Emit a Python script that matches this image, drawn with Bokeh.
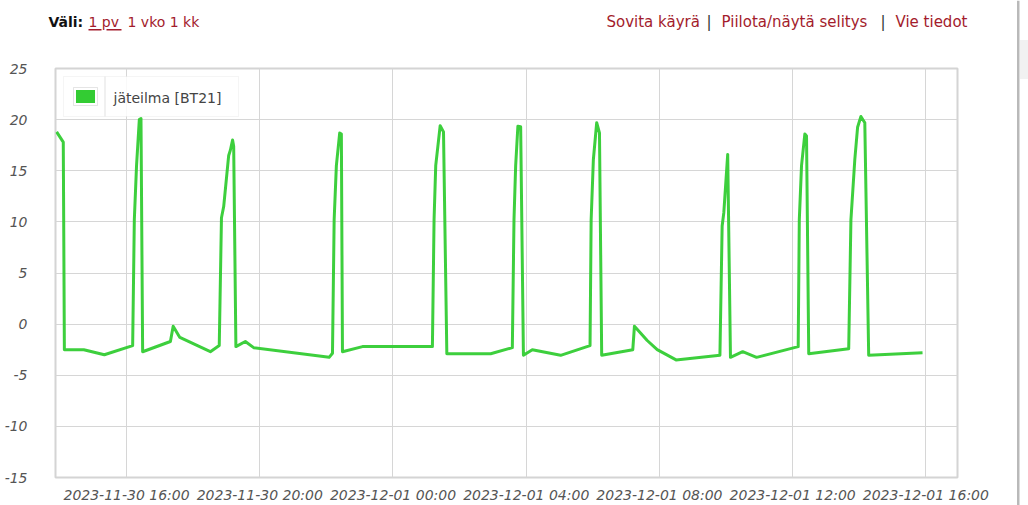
import pandas as pd
from bokeh.plotting import figure
from bokeh.layouts import column, row
from bokeh.models import (Range1d, FixedTicker, DatetimeTickFormatter, Label, BoxAnnotation,
                          ColumnDataSource, NumeralTickFormatter, Spacer)
from bokeh.embed import file_html
from bokeh.resources import INLINE

# ---------------- data ----------------
series_name = "jäteilma [BT21]"

times = [
    "2023-11-30 13:54", "2023-11-30 14:06", "2023-11-30 14:08", "2023-11-30 14:43",
    "2023-11-30 15:20", "2023-11-30 16:11", "2023-11-30 16:14", "2023-11-30 16:18",
    "2023-11-30 16:23", "2023-11-30 16:26", "2023-11-30 16:29", "2023-11-30 17:19",
    "2023-11-30 17:24", "2023-11-30 17:36", "2023-11-30 18:31", "2023-11-30 18:47",
    "2023-11-30 18:51", "2023-11-30 18:55", "2023-11-30 19:04", "2023-11-30 19:07",
    "2023-11-30 19:11", "2023-11-30 19:13", "2023-11-30 19:17", "2023-11-30 19:34",
    "2023-11-30 19:49", "2023-11-30 22:05", "2023-11-30 22:11", "2023-11-30 22:14",
    "2023-11-30 22:18", "2023-11-30 22:24", "2023-11-30 22:27", "2023-11-30 22:29",
    "2023-11-30 23:05", "2023-12-01 01:11", "2023-12-01 01:14", "2023-12-01 01:17",
    "2023-12-01 01:25", "2023-12-01 01:31", "2023-12-01 01:37", "2023-12-01 02:56",
    "2023-12-01 03:35", "2023-12-01 03:38", "2023-12-01 03:41", "2023-12-01 03:45",
    "2023-12-01 03:50", "2023-12-01 03:55", "2023-12-01 04:11", "2023-12-01 05:02",
    "2023-12-01 05:55", "2023-12-01 05:57", "2023-12-01 06:01", "2023-12-01 06:07",
    "2023-12-01 06:12", "2023-12-01 06:16", "2023-12-01 07:12", "2023-12-01 07:15",
    "2023-12-01 07:38", "2023-12-01 07:56", "2023-12-01 08:30", "2023-12-01 09:49",
    "2023-12-01 09:53", "2023-12-01 09:56", "2023-12-01 10:03", "2023-12-01 10:08",
    "2023-12-01 10:30", "2023-12-01 10:55", "2023-12-01 12:10", "2023-12-01 12:12",
    "2023-12-01 12:16", "2023-12-01 12:22", "2023-12-01 12:25", "2023-12-01 12:29",
    "2023-12-01 13:41", "2023-12-01 13:45", "2023-12-01 13:52", "2023-12-01 13:57",
    "2023-12-01 14:03", "2023-12-01 14:10", "2023-12-01 14:17", "2023-12-01 15:54",
]
temps = [
    18.8, 17.8, -2.5, -2.5,
    -3.0, -2.1, 10.2, 15.5,
    20.0, 20.1, -2.7, -1.7,
    -0.2, -1.3, -2.7, -2.1,
    10.4, 11.5, 16.5, 17.0,
    18.0, 17.4, -2.2, -1.7,
    -2.3, -3.25, -2.85, 10.2,
    15.5, 18.7, 18.6, -2.7,
    -2.2, -2.2, 10.2, 15.5,
    19.4, 18.8, -2.9, -2.9,
    -2.3, 10.2, 15.5, 19.35,
    19.3, -3.05, -2.5, -3.05,
    -2.1, 10.2, 16.1, 19.7,
    18.7, -3.05, -2.5, -0.2,
    -1.6, -2.5, -3.5, -3.05,
    9.6, 10.9, 16.6, -3.25,
    -2.7, -3.25, -2.2, 10.2,
    15.5, 18.6, 18.4, -2.9,
    -2.4, 10.2, 16.1, 19.25,
    20.3, 19.7, -3.05, -2.8,
]

x_tick_times = ["2023-11-30 16:00", "2023-11-30 20:00", "2023-12-01 00:00",
                "2023-12-01 04:00", "2023-12-01 08:00", "2023-12-01 12:00",
                "2023-12-01 16:00"]
y_tick_values = [-15, -10, -5, 0, 5, 10, 15, 20, 25]
x_start, x_end = "2023-11-30 13:52", "2023-12-01 16:57"
y_start, y_end = -15, 25

header_left = ["Väli:", "1 pv", "1 vko 1 kk"]
header_right = ["Sovita käyrä", "|", "Piilota/näytä selitys", "|", "Vie tiedot"]

# ---------------- styling constants ----------------
FONT = "DejaVu Sans"
LINK = "#a31c2c"
GREEN = "#33cc33"
SEP = "#b9b9b9"
HEADER_H = 40
MAIN_W = 1016

# ---------------- header (page coords, y down) ----------------
hdr = figure(width=1028, height=HEADER_H, output_backend="svg", toolbar_location=None,
             x_range=Range1d(0, 1028), y_range=Range1d(HEADER_H, 0),
             x_axis_location=None, y_axis_location=None,
             min_border_left=0, min_border_right=0,
             min_border_top=0, min_border_bottom=0)
hdr.outline_line_color = None
hdr.grid.visible = False


def htext(x, y, s, color, style="normal", size="14px"):
    hdr.add_layout(Label(x=x, y=y, text=s, text_font=FONT, text_font_size=size,
                         text_font_style=style, text_color=color,
                         text_baseline="middle", text_align="left"))


def hbox(l, t_, r, b, fill):
    hdr.add_layout(BoxAnnotation(left=l, right=r, top=t_, bottom=b,
                                 fill_color=fill, fill_alpha=1.0, line_color=None))


htext(48, 21, header_left[0], "#111111", style="bold")
htext(88, 21, header_left[1], LINK)
hbox(88, 28.5, 101, 30, LINK)
hbox(106, 28.5, 121, 30, LINK)
htext(127, 21, header_left[2], LINK)
right_x = [606, 706, 721, 880, 895]
for xx, s in zip(right_x, header_right):
    htext(xx, 21, s, "#333333" if s == "|" else LINK, size="15px")
hbox(1016.5, 0, 1019, HEADER_H, SEP)

# ---------------- main chart ----------------
MAIN_H = 505 - HEADER_H
t = pd.to_datetime(times)
src = ColumnDataSource(dict(t=t, v=temps))
xt = (pd.to_datetime(x_tick_times).astype("int64") // 10**6).tolist()

p = figure(width=MAIN_W, height=MAIN_H, x_axis_type="datetime",
           output_backend="svg", toolbar_location=None,
           x_range=Range1d(pd.Timestamp(x_start), pd.Timestamp(x_end)),
           y_range=Range1d(y_start, y_end),
           min_border_left=55, min_border_right=MAIN_W - 957,
           min_border_top=68 - HEADER_H, min_border_bottom=505 - 477)
p.background_fill_color = "white"
p.border_fill_color = "white"
p.outline_line_color = "#d4d4d4"
p.outline_line_width = 2

p.xaxis.ticker = FixedTicker(ticks=xt)
p.yaxis.ticker = FixedTicker(ticks=y_tick_values)
p.xgrid.ticker = FixedTicker(ticks=xt)
p.ygrid.ticker = FixedTicker(ticks=y_tick_values)
fmt = "%Y-%m-%d %H:%M"
p.xaxis.formatter = DatetimeTickFormatter(hours=fmt, days=fmt, minutes=fmt,
                                          hourmin=fmt, months=fmt, years=fmt)
p.yaxis.formatter = NumeralTickFormatter(format="0")
for g in (p.xgrid, p.ygrid):
    g.grid_line_color = "#d6d6d6"
    g.grid_line_width = 1
for ax in (p.xaxis, p.yaxis):
    ax.axis_label = None
    ax.axis_line_color = None
    ax.major_tick_line_color = None
    ax.minor_tick_line_color = None
    ax.major_tick_out = 0
    ax.major_tick_in = 0
    ax.major_label_text_font = FONT
    ax.major_label_text_font_style = "italic"
    ax.major_label_text_font_size = "14px"
    ax.major_label_text_color = "#555555"
p.xaxis.major_label_standoff = 9
p.yaxis.major_label_standoff = 28

p.line(x="t", y="v", source=src, line_color=GREEN, line_width=3,
       line_join="round", line_alpha=0.95)

# legend drawn in frame-relative screen coords (given in page pixels)
FL, FB = 55, 477


def box(l, t_, r, b, fill, alpha=1.0, line=None, lw=1):
    p.add_layout(BoxAnnotation(left=l - FL, right=r - FL, top=FB - t_, bottom=FB - b,
                               left_units="screen", right_units="screen",
                               top_units="screen", bottom_units="screen",
                               fill_color=fill, fill_alpha=alpha,
                               line_color=line, line_width=lw))


box(63, 76, 238, 116, "white", 0.85, "#dddddd", 1)
box(104, 76, 105, 116, "#e2e2e2")
box(73, 87, 97, 105, "white", 1.0, "#aaaaaa", 1)
box(75.5, 89.5, 94.5, 102.5, GREEN)
p.add_layout(Label(x=113 - FL, y=FB - 97, x_units="screen", y_units="screen",
                   text=series_name, text_font=FONT, text_font_size="14px",
                   text_color="#444444", text_baseline="middle", text_align="left"))

# right-hand page separator / scrollbar strip
side = Spacer(width=1028 - MAIN_W, height=MAIN_H, margin=0,
              styles={"background": ("linear-gradient(%s, %s) 0.5px 0 / 2.5px 100%% no-repeat, "
                                      "linear-gradient(#f1f1f1, #f1f1f1) 4px 0 / 8px 39px no-repeat,"
                                      " #ffffff") % (SEP, SEP)})

layout = column(hdr, row(p, side, spacing=0), spacing=0)
open("out.html", "w").write(file_html(layout, INLINE))
